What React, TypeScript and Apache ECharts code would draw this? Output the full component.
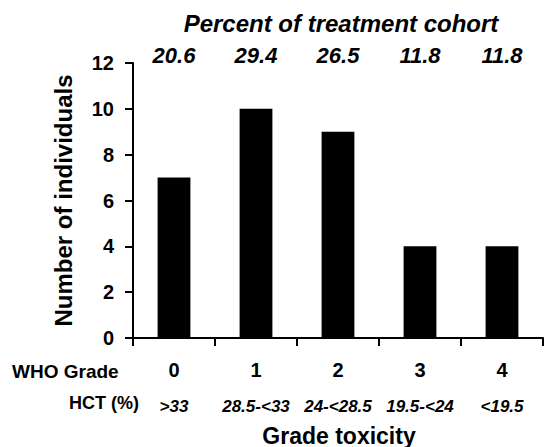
import React, { useEffect, useRef } from "react";
import * as echarts from "echarts";

const grades = ["0", "1", "2", "3", "4"];
const hctRanges = [">33", "28.5-<33", "24-<28.5", "19.5-<24", "<19.5"];
const counts = [7, 10, 9, 4, 4];
const percents = ["20.6", "29.4", "26.5", "11.8", "11.8"];
const yTicks = { min: 0, max: 12, interval: 2 };

const FONT = "'Liberation Sans', Arial, Helvetica, sans-serif";

export default function App() {
  const ref = useRef<HTMLDivElement>(null);
  useEffect(() => {
    if (!ref.current) return;
    const chart = echarts.init(ref.current, null, { renderer: "svg" });
    chart.setOption({
      animation: false,
      textStyle: { fontFamily: FONT },
      title: [
        {
          text: "Percent of treatment cohort",
          left: 341,
          top: 11,
          padding: 0,
          textAlign: "center",
          textStyle: { fontFamily: FONT, fontSize: 24, fontWeight: "bold", fontStyle: "italic", color: "#000" },
        },
        {
          text: "Grade toxicity",
          left: 339,
          top: 424,
          padding: 0,
          textAlign: "center",
          textStyle: { fontFamily: FONT, fontSize: 23, fontWeight: "bold", color: "#000" },
        },
      ],
      graphic: [
        {
          type: "text",
          x: 12,
          y: 371,
          style: { text: "WHO Grade", font: `bold 19px ${FONT}`, fill: "#000", verticalAlign: "middle", align: "left" },
        },
        {
          type: "text",
          x: 139,
          y: 403,
          style: { text: "HCT (%)", font: `bold 18px ${FONT}`, fill: "#000", verticalAlign: "middle", align: "right" },
        },
      ],
      grid: { left: 133, right: 1, top: 63, bottom: 109, containLabel: false },
      xAxis: [
        {
          type: "category",
          data: grades,
          position: "bottom",
          axisLine: { lineStyle: { color: "#000", width: 2 } },
          axisTick: { show: true, length: 8, lineStyle: { color: "#000", width: 2 } },
          axisLabel: {
            margin: 18,
            interval: 0,
            formatter: (v: string, i: number) => `{g|${v}}\n{h|${hctRanges[i]}}`,
            rich: {
              g: {
                fontFamily: FONT,
                fontSize: 20,
                fontWeight: "bold",
                color: "#000",
                lineHeight: 28,
              },
              h: {
                fontFamily: FONT,
                fontSize: 17,
                fontWeight: "bold",
                fontStyle: "italic",
                color: "#000",
                lineHeight: 44,
              },
            },
          },
        },
        {
          type: "category",
          data: percents,
          position: "top",
          axisLine: { show: false },
          axisTick: { show: false },
          axisLabel: {
            margin: 0,
            interval: 0,
            formatter: (v: string) => `{p|${v}}`,
            rich: {
              p: {
                fontFamily: FONT,
                fontSize: 22,
                fontWeight: "bold",
                fontStyle: "italic",
                color: "#000",
                lineHeight: 16,
              },
            },
          },
        },
      ],
      yAxis: {
        type: "value",
        min: yTicks.min,
        max: yTicks.max,
        interval: yTicks.interval,
        name: "Number of individuals",
        nameLocation: "middle",
        nameGap: 58,
        nameTextStyle: { fontFamily: FONT, fontSize: 24, fontWeight: "bold", color: "#000" },
        axisLine: { show: true, lineStyle: { color: "#000", width: 2 } },
        axisTick: { show: true, length: 8, lineStyle: { color: "#000", width: 2 } },
        axisLabel: { margin: 19, fontFamily: FONT, fontSize: 20, fontWeight: "bold", color: "#000" },
        splitLine: { show: false },
      },
      series: [
        {
          type: "bar",
          data: counts,
          xAxisIndex: 0,
          barWidth: "40%",
          itemStyle: { color: "#000" },
        },
      ],
    });
    return () => chart.dispose();
  }, []);
  return <div ref={ref} style={{ width: 544, height: 447, position: "absolute", left: 0, top: 0 }} />;
}
